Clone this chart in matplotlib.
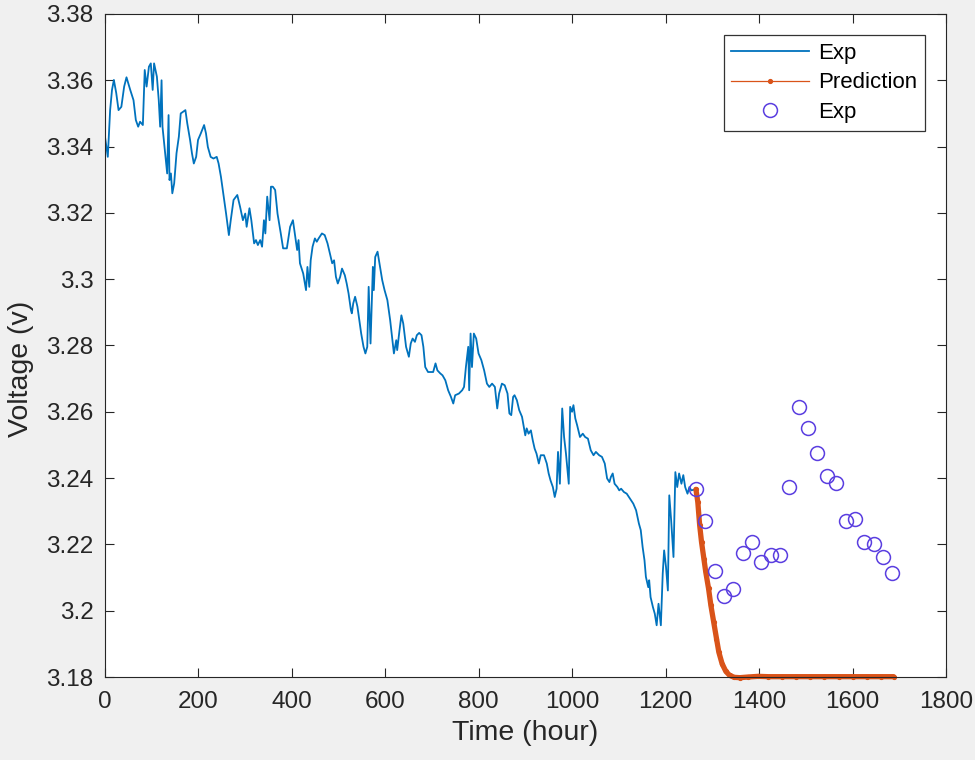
import matplotlib
matplotlib.use("Agg")
import matplotlib.pyplot as plt

exp_hours = [0, 7, 12, 16, 20, 25, 30, 36, 42, 47, 55, 62, 67, 72, 76, 82, 86, 90, 95, 99,
             103, 106, 112, 116, 119, 122, 124, 129, 134, 137, 139, 142, 145, 149, 154, 159, 163, 173, 177, 183,
             187, 191, 196, 200, 206, 213, 217, 221, 227, 233, 240, 244, 249, 254, 260, 266, 270, 276, 284, 290,
             296, 301, 304, 310, 314, 320, 324, 328, 333, 337, 341, 344, 348, 353, 356, 360, 365, 370, 377, 382,
             390, 397, 403, 407, 412, 415, 418, 425, 431, 434, 438, 441, 445, 450, 454, 458, 465, 471, 477, 482,
             487, 491, 495, 499, 504, 508, 514, 518, 522, 527, 529, 532, 536, 541, 545, 549, 554, 558, 562, 565,
             569, 574, 576, 579, 584, 588, 594, 599, 605, 611, 615, 619, 624, 626, 631, 635, 639, 645, 651, 655,
             659, 664, 668, 673, 678, 682, 686, 692, 698, 703, 708, 712, 718, 723, 729, 735, 741, 746, 750, 758,
             765, 769, 773, 778, 780, 783, 786, 790, 795, 800, 806, 812, 818, 823, 829, 835, 840, 844, 850, 856,
             862, 866, 870, 874, 877, 882, 887, 893, 897, 900, 903, 907, 912, 916, 920, 924, 929, 933, 940, 946,
             950, 954, 959, 963, 967, 970, 974, 979, 983, 987, 993, 996, 1000, 1003, 1007, 1011, 1017, 1023, 1028, 1034,
             1040, 1046, 1051, 1058, 1064, 1070, 1075, 1080, 1083, 1087, 1091, 1097, 1101, 1105, 1111, 1117, 1124, 1131, 1137, 1143,
             1147, 1151, 1155, 1158, 1163, 1165, 1168, 1173, 1177, 1181, 1185, 1190, 1194, 1197, 1201, 1205, 1208, 1212, 1217, 1221,
             1225, 1229, 1234, 1238, 1242, 1247, 1251, 1255, 1261]
exp_volt = [3.3440, 3.3369, 3.3510, 3.3571, 3.3601, 3.3562, 3.3510, 3.3520, 3.3581, 3.3609, 3.3571, 3.3540, 3.3480, 3.3460, 3.3475, 3.3465, 3.3631, 3.3581, 3.3641, 3.3651,
            3.3571, 3.3651, 3.3611, 3.3540, 3.3460, 3.3600, 3.3460, 3.3390, 3.3319, 3.3495, 3.3299, 3.3319, 3.3259, 3.3289, 3.3380, 3.3430, 3.3500, 3.3510, 3.3470, 3.3420,
            3.3380, 3.3349, 3.3369, 3.3420, 3.3440, 3.3465, 3.3440, 3.3399, 3.3369, 3.3364, 3.3369, 3.3349, 3.3309, 3.3259, 3.3198, 3.3133, 3.3178, 3.3239, 3.3254, 3.3218,
            3.3178, 3.3198, 3.3158, 3.3214, 3.3178, 3.3108, 3.3118, 3.3103, 3.3118, 3.3098, 3.3178, 3.3138, 3.3249, 3.3178, 3.3279, 3.3279, 3.3269, 3.3198, 3.3138, 3.3093,
            3.3093, 3.3158, 3.3178, 3.3138, 3.3088, 3.3118, 3.3048, 3.3017, 3.2967, 3.3037, 3.2977, 3.3057, 3.3098, 3.3123, 3.3113, 3.3123, 3.3138, 3.3133, 3.3108, 3.3078,
            3.3048, 3.3057, 3.3007, 3.2987, 3.3007, 3.3032, 3.3012, 3.2987, 3.2957, 3.2907, 3.2897, 3.2927, 3.2947, 3.2917, 3.2876, 3.2836, 3.2796, 3.2776, 3.2796, 3.2977,
            3.2806, 3.3037, 3.2967, 3.3067, 3.3083, 3.3048, 3.2997, 3.2967, 3.2937, 3.2876, 3.2826, 3.2776, 3.2816, 3.2786, 3.2846, 3.2891, 3.2866, 3.2796, 3.2766, 3.2806,
            3.2821, 3.2811, 3.2831, 3.2838, 3.2831, 3.2796, 3.2735, 3.2720, 3.2720, 3.2720, 3.2746, 3.2725, 3.2716, 3.2710, 3.2695, 3.2665, 3.2645, 3.2625, 3.2650, 3.2655,
            3.2665, 3.2675, 3.2735, 3.2796, 3.2665, 3.2836, 3.2735, 3.2836, 3.2821, 3.2776, 3.2756, 3.2725, 3.2685, 3.2675, 3.2685, 3.2675, 3.2610, 3.2655, 3.2685, 3.2680,
            3.2655, 3.2595, 3.2590, 3.2645, 3.2650, 3.2635, 3.2605, 3.2585, 3.2554, 3.2529, 3.2550, 3.2534, 3.2544, 3.2514, 3.2489, 3.2474, 3.2444, 3.2469, 3.2469, 3.2444,
            3.2414, 3.2393, 3.2373, 3.2343, 3.2368, 3.2479, 3.2383, 3.2610, 3.2524, 3.2474, 3.2383, 3.2615, 3.2600, 3.2620, 3.2580, 3.2559, 3.2524, 3.2534, 3.2524, 3.2519,
            3.2484, 3.2469, 3.2479, 3.2469, 3.2464, 3.2444, 3.2399, 3.2388, 3.2403, 3.2414, 3.2383, 3.2373, 3.2363, 3.2368, 3.2358, 3.2353, 3.2338, 3.2323, 3.2303, 3.2263,
            3.2243, 3.2192, 3.2152, 3.2102, 3.2071, 3.2092, 3.2041, 3.2011, 3.1991, 3.1956, 3.2021, 3.1956, 3.2112, 3.2182, 3.2132, 3.2061, 3.2348, 3.2273, 3.2162, 3.2418,
            3.2373, 3.2414, 3.2383, 3.2409, 3.2373, 3.2353, 3.2373, 3.2363, 3.2365]

# prediction curve
pred_hours = [1265, 1269, 1273, 1277, 1282, 1286, 1292, 1297, 1303, 1309, 1314, 1321, 1329, 1337, 1347,
              1359, 1377, 1398, 1420, 1450, 1480, 1510, 1540, 1570, 1600, 1630, 1660, 1688]
pred_volt = [3.2366, 3.2328, 3.2258, 3.2207, 3.2157, 3.2117, 3.2067, 3.2016, 3.1966, 3.1916, 3.1875, 3.1840, 3.1817, 3.1805, 3.1799,
             3.1798, 3.1800, 3.1802, 3.1801, 3.1801, 3.1801, 3.1801, 3.1801, 3.1801, 3.1801, 3.1801, 3.1801, 3.1801]

# later measured points (circles)
circ_hours = [1265, 1285, 1305, 1325, 1345, 1365, 1385, 1405, 1425, 1445, 1465,
              1485, 1505, 1525, 1545, 1565, 1585, 1605, 1625, 1645, 1665, 1685]
circ_volt = [3.2366, 3.2270, 3.2120, 3.2043, 3.2064, 3.2174, 3.2207, 3.2146, 3.2167, 3.2168, 3.2373,
             3.2613, 3.2550, 3.2476, 3.2406, 3.2386, 3.2270, 3.2277, 3.2207, 3.2202, 3.2161, 3.2114]

x_ticks = list(range(0, 2000, 200))
y_ticks = [3.18, 3.20, 3.22, 3.24, 3.26, 3.28, 3.30, 3.32, 3.34, 3.36, 3.38]
y_labels = ["3.18", "3.2", "3.22", "3.24", "3.26", "3.28", "3.3", "3.32", "3.34", "3.36", "3.38"]

plt.rcParams["font.family"] = ["Liberation Sans", "DejaVu Sans"]

fig = plt.figure(figsize=(9.75, 7.6), dpi=100, facecolor="#f0f0f0")
ax = fig.add_axes([0.1072, 0.1092, 0.8631, 0.8724])
ax.set_facecolor("white")

ax.plot(exp_hours, exp_volt, color="#0072BD", lw=1.3, label="Exp")
ax.plot(pred_hours, pred_volt, color="#D95319", lw=3.8, clip_on=False, solid_capstyle="round")
ax.plot(pred_hours, pred_volt, color="#D95319", lw=0.9, marker=".", ms=5.5, clip_on=False, label="Prediction")
ax.plot(circ_hours, circ_volt, ls="none", marker="o", ms=10, mfc="none", mec="#5a3ee0", mew=1.1, label="Exp")

ax.set_xlim(0, 1800)
ax.set_ylim(3.18, 3.38)
ax.set_xticks(x_ticks)
ax.set_yticks(y_ticks)
ax.set_yticklabels(y_labels)
ax.tick_params(direction="in", length=6.5, width=0.8, top=True, right=True,
               labelsize=17.5, colors="#262626")
ax.tick_params(axis="x", pad=10)
ax.tick_params(axis="y", pad=8)
for sp in ax.spines.values():
    sp.set_color("#262626")
    sp.set_linewidth(0.8)

ax.set_xlabel("Time (hour)", fontsize=20.5, color="#262626", labelpad=5)
ax.set_ylabel("Voltage (v)", fontsize=20.5, color="#262626")
ax.yaxis.set_label_coords(-0.084, 0.465)

leg = ax.legend(loc="upper right", bbox_to_anchor=(0.975, 0.968), borderaxespad=0,
                fontsize=16, fancybox=False, framealpha=1, edgecolor="#333333",
                handlelength=3.5, handletextpad=0.4, borderpad=0.35, labelspacing=0.38)
leg.get_frame().set_linewidth(0.9)

fig.savefig("out.png", dpi=100, facecolor=fig.get_facecolor())
